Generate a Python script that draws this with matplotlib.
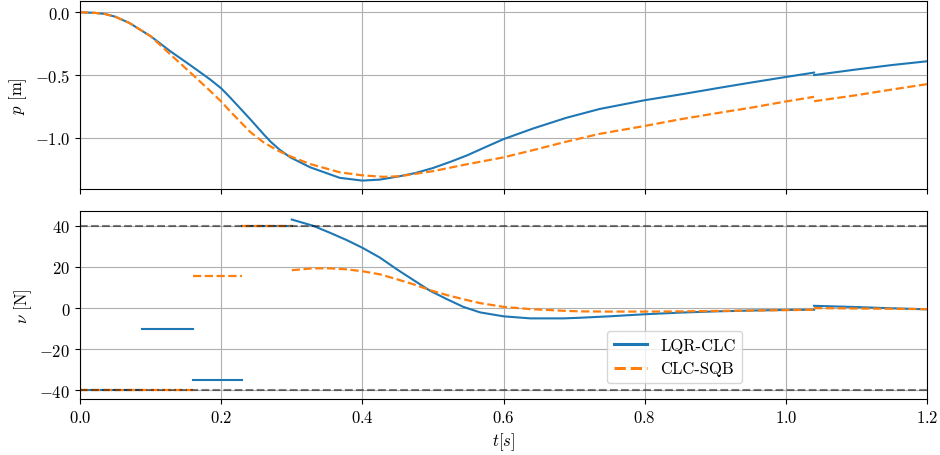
import matplotlib
matplotlib.use("Agg")
import matplotlib.pyplot as plt

plt.rcParams['font.family'] = 'serif'
plt.rcParams['font.serif'] = ['cmr10']
plt.rcParams['mathtext.fontset'] = 'cm'
plt.rcParams['axes.formatter.use_mathtext'] = True
plt.rcParams['font.size'] = 12

# position p [m]; phase 1 up to t = 1.04, phase 2 after the switch
t_lqr_p1 = [0.0, 0.02, 0.035, 0.05, 0.07, 0.1, 0.128, 0.156, 0.184, 0.2, 0.213,
            0.241, 0.26, 0.27, 0.283, 0.298, 0.326, 0.368, 0.4, 0.425, 0.453, 0.475,
            0.5, 0.525, 0.548, 0.575, 0.6, 0.642, 0.689, 0.736, 0.8, 0.855, 0.907,
            0.95, 1.0, 1.04]
p_lqr1 = [0.0, -0.004, -0.013, -0.035, -0.085, -0.19, -0.31, -0.42, -0.533, -0.605,
          -0.68, -0.85, -0.97, -1.03, -1.095, -1.155, -1.234, -1.318, -1.34, -1.332,
          -1.305, -1.28, -1.24, -1.19, -1.14, -1.072, -1.01, -0.925, -0.84, -0.77,
          -0.70, -0.65, -0.60, -0.56, -0.515, -0.48]
t_sqb_p1 = [0.0, 0.02, 0.035, 0.05, 0.07, 0.1, 0.128, 0.156, 0.184, 0.2, 0.213,
            0.241, 0.26, 0.28, 0.298, 0.326, 0.368, 0.4, 0.43, 0.453, 0.5, 0.548,
            0.6, 0.642, 0.689, 0.736, 0.8, 0.85, 0.9, 0.95, 1.0, 1.04]
p_sqb1 = [0.0, -0.004, -0.013, -0.035, -0.085, -0.19, -0.335, -0.478, -0.624, -0.71,
          -0.79, -0.952, -1.035, -1.10, -1.147, -1.208, -1.274, -1.298, -1.31, -1.305,
          -1.265, -1.21, -1.155, -1.097, -1.03, -0.968, -0.905, -0.852, -0.805, -0.76,
          -0.71, -0.673]
t_p2 = [1.04, 1.1, 1.15, 1.2]
p_lqr2 = [-0.50, -0.455, -0.42, -0.39]
p_sqb2 = [-0.708, -0.66, -0.615, -0.572]

# input nu [N]: constant pieces first, then the continuous phases
lqr_steps = [((0.0, 0.088), -40), ((0.088, 0.16), -10), ((0.16, 0.23), -35), ((0.23, 0.3), 40)]
sqb_steps = [((0.0, 0.16), -40), ((0.16, 0.23), 15.8), ((0.23, 0.3), 40)]

t_n1 = [0.3, 0.33, 0.354, 0.378, 0.4, 0.425, 0.449, 0.472, 0.496, 0.52, 0.543,
        0.567, 0.6, 0.638, 0.685, 0.708, 0.75, 0.8, 0.85, 0.9, 0.95, 1.0, 1.04]
n_lqr1 = [43.0, 40.0, 36.6, 33.0, 29.3, 24.5, 18.8, 13.7, 8.4, 4.3, 0.6,
          -2.1, -4.0, -5.0, -5.0, -4.7, -4.0, -3.0, -2.2, -1.6, -1.2, -0.9, -0.8]
n_sqb1 = [18.4, 19.3, 19.3, 18.8, 17.9, 16.4, 14.0, 11.6, 8.7, 6.3, 4.3,
          2.4, 0.6, -0.5, -1.3, -1.6, -1.7, -1.7, -1.6, -1.4, -1.2, -1.0, -0.8]
t_n2 = [1.04, 1.1, 1.15, 1.2]
n_lqr2 = [1.1, 0.5, -0.1, -0.6]
n_sqb2 = [0.0, -0.2, -0.35, -0.5]

nu_max = 40

blue = '#1f77b4'
orange = '#ff7f0e'

fig = plt.figure(figsize=(9.4, 4.56), dpi=100)
ax1 = fig.add_axes([0.0851, 0.5833, 0.9011, 0.4123])
ax2 = fig.add_axes([0.0851, 0.1228, 0.9011, 0.4123], sharex=ax1)

# top: position
ax1.plot(t_lqr_p1, p_lqr1, color=blue, lw=1.5)
ax1.plot(t_p2, p_lqr2, color=blue, lw=1.5)
ax1.plot(t_sqb_p1, p_sqb1, color=orange, lw=1.6, ls='--')
ax1.plot(t_p2, p_sqb2, color=orange, lw=1.6, ls='--')
ax1.set_ylabel(r'$p$ [m]')
ax1.set_ylim(-1.407, 0.09)
ax1.set_yticks([0.0, -0.5, -1.0])
ax1.grid(True)
ax1.tick_params(labelbottom=False)

# bottom: input with limits
for (a, b), v in lqr_steps:
    ax2.plot([a, b], [v, v], color=blue, lw=1.5)
ax2.plot(t_n1, n_lqr1, color=blue, lw=1.5, label='LQR-CLC')
ax2.plot(t_n2, n_lqr2, color=blue, lw=1.5)
for (a, b), v in sqb_steps:
    ax2.plot([a, b], [v, v], color=orange, lw=1.6, ls='--')
ax2.plot(t_n1, n_sqb1, color=orange, lw=1.6, ls='--', label='CLC-SQB')
ax2.plot(t_n2, n_sqb2, color=orange, lw=1.6, ls='--')
ax2.axhline(nu_max, color='k', alpha=0.5, ls='--', lw=1.5)
ax2.axhline(-nu_max, color='k', alpha=0.5, ls='--', lw=1.5)
ax2.set_ylabel(r'$\nu$ [N]')
ax2.set_xlabel(r'$t[s]$')
ax2.set_yticks([40, 20, 0, -20, -40])
ax2.grid(True)
ax2.set_xlim(0, 1.2)

leg = ax2.legend(loc='lower left', bbox_to_anchor=(0.622, 0.085), borderaxespad=0)
for line in leg.get_lines():
    line.set_linewidth(2.2)

fig.savefig('out.png', dpi=100)
